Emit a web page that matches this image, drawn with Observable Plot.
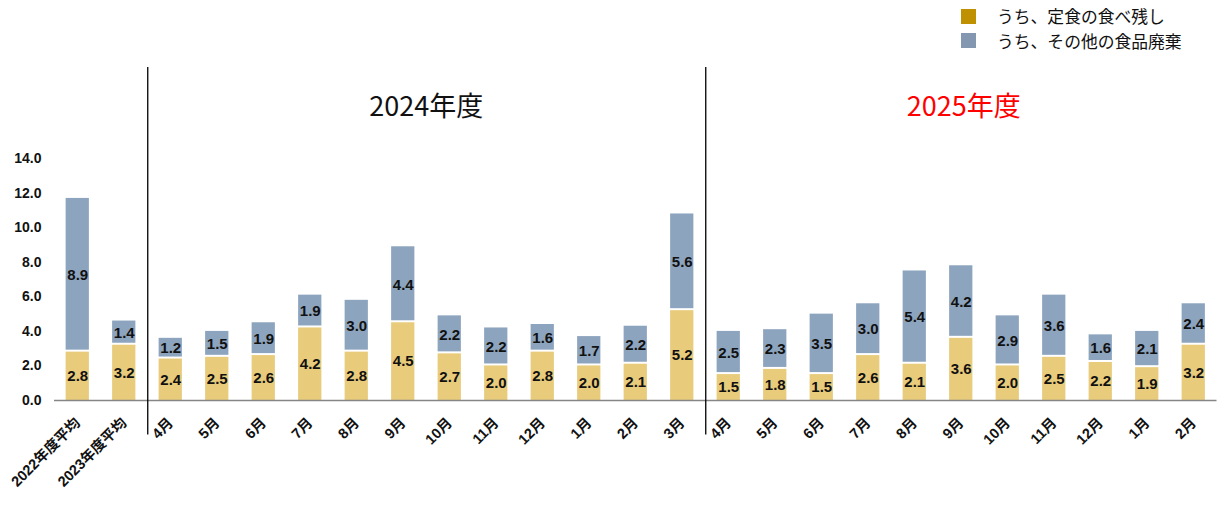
<!DOCTYPE html>
<html>
<head>
<meta charset="utf-8">
<script src="https://cdn.jsdelivr.net/npm/d3@7"></script>
<script src="https://cdn.jsdelivr.net/npm/@observablehq/plot@0.6"></script>
<style>
  body { margin: 0; background: #fff; font-family: "Liberation Sans", "Noto Sans CJK JP", sans-serif; }
  #legend { position: relative; height: 67px; width: 1223px; }
  .item { position: absolute; left: 961px; display: flex; align-items: center; height: 20px;
          font-family: "Noto Sans CJK JP", sans-serif; font-size: 16.8px; color: #111; white-space: nowrap; }
  .sw { width: 15px; height: 15px; margin-right: 21px; flex: none; }
</style>
</head>
<body>
<div id="legend"></div>
<div id="chart"></div>
<script>
// Period labels along the x axis
const averages = ["2022年度平均", "2023年度平均"];
const months2024 = ["4月", "5月", "6月", "7月", "8月", "9月", "10月", "11月", "12月", "1月", "2月", "3月"];
const months2025 = ["4月", "5月", "6月", "7月", "8月", "9月", "10月", "11月", "12月", "1月", "2月"];

// うち、定食の食べ残し (lower segment)
const leftover = [2.8, 3.2,
  2.4, 2.5, 2.6, 4.2, 2.8, 4.5, 2.7, 2.0, 2.8, 2.0, 2.1, 5.2,
  1.5, 1.8, 1.5, 2.6, 2.1, 3.6, 2.0, 2.5, 2.2, 1.9, 3.2];
// うち、その他の食品廃棄 (upper segment)
const other = [8.9, 1.4,
  1.2, 1.5, 1.9, 1.9, 3.0, 4.4, 2.2, 2.2, 1.6, 1.7, 2.2, 5.6,
  2.5, 2.3, 3.5, 3.0, 5.4, 4.2, 2.9, 3.6, 1.6, 2.1, 2.4];

const yTicks = [0, 2, 4, 6, 8, 10, 12, 14];
const yMax = 19.28;

const seriesNames = ["うち、定食の食べ残し", "うち、その他の食品廃棄"];
const legendColors = ["#BF9000", "#8497B0"];
const barColors = ["#E8CB7B", "#8DA4BE"];

// unique keys per period, with a display label for each
const periods = [
  ...averages.map(a => ({ key: a, label: a })),
  ...months2024.map(m => ({ key: "2024|" + m, label: m })),
  ...months2025.map(m => ({ key: "2025|" + m, label: m }))
];
const keys = periods.map(p => p.key);
const labelOf = new Map(periods.map(p => [p.key, p.label]));
const rows = periods.map((p, i) => ({ key: p.key, leftover: leftover[i], other: other[i] }));

// fiscal-year sections: divider before the first month, title text
const sections = [
  { first: "2024|4月", title: "2024年度", at: "2024|9月", color: "#111" },
  { first: "2025|4月", title: "2025年度", at: "2025|9月", color: "#FF0000" }
];

// legend
const legend = document.getElementById("legend");
seriesNames.forEach((name, i) => {
  const el = document.createElement("div");
  el.className = "item";
  el.style.top = (6 + i * 24.5) + "px";
  el.innerHTML = `<span class="sw" style="background:${legendColors[i]}"></span><span>${name}</span>`;
  legend.appendChild(el);
});

const labelStyle = { fill: "#111", fontWeight: "bold", fontSize: 15, fontFamily: "Liberation Sans, Arial, sans-serif" };

const chart = Plot.plot({
  width: 1223,
  height: 464,
  marginTop: 0,
  marginBottom: 131,
  marginLeft: 54,
  marginRight: 6.5,
  style: { fontFamily: "Liberation Sans, Noto Sans CJK JP, sans-serif", background: "#fff", overflow: "visible" },
  x: { domain: keys, paddingInner: 0.5, paddingOuter: 0.25, round: false },
  y: { domain: [0, yMax] },
  marks: [
    Plot.barY(rows, { x: "key", y1: 0, y2: "leftover", fill: barColors[0] }),
    Plot.barY(rows, { x: "key", y1: "leftover", y2: d => d.leftover + d.other, fill: barColors[1], insetBottom: 2 }),
    Plot.ruleY([0], { stroke: "#868686", strokeWidth: 1.3 }),
    Plot.text(rows, { x: "key", y: d => d.leftover / 2, text: d => d.leftover.toFixed(1), ...labelStyle }),
    Plot.text(rows, { x: "key", y: d => d.leftover + d.other / 2, text: d => d.other.toFixed(1), ...labelStyle }),
    Plot.ruleX(sections, { x: "first", y1: -2, y2: yMax, dx: -23, stroke: "#000", strokeWidth: 1.3 }),
    Plot.text(sections.slice(0, 1), { x: "at", y: 17, text: "title", fill: "color", dx: 23, fontSize: 27, fontFamily: "Noto Sans CJK JP, sans-serif" }),
    Plot.text(sections.slice(1), { x: "at", y: 17, text: "title", fill: "color", dx: 2.5, fontSize: 27, fontFamily: "Noto Sans CJK JP, sans-serif" }),
    Plot.axisY(yTicks, { tickFormat: d => d.toFixed(1), tickSize: 0, tickPadding: 13, fontWeight: "bold", fontSize: 14, label: null, color: "#111" }),
    Plot.axisX({ tickFormat: k => labelOf.get(k), tickRotate: -45, tickSize: 0, tickPadding: 20, fontWeight: "bold", fontSize: 14.5, label: null, color: "#111" })
  ]
});
document.getElementById("chart").appendChild(chart);
</script>
</body>
</html>
